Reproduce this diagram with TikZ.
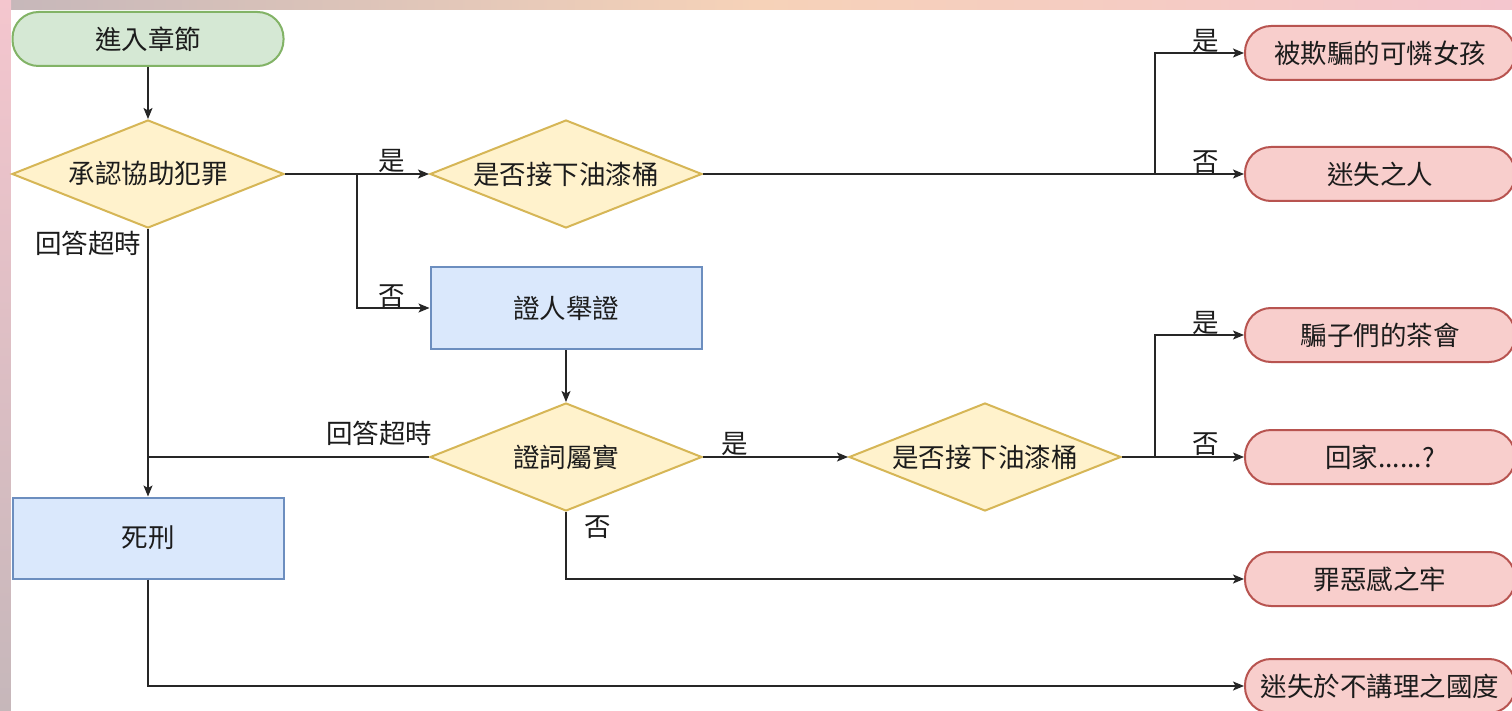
\documentclass[tikz,border=0pt]{standalone}
\usepackage{fontspec}
\newfontfamily\cjk{Noto Sans CJK TC}
\usetikzlibrary{shapes.geometric,arrows.meta}
\definecolor{txt}{HTML}{1C1C1C}
\definecolor{gfill}{HTML}{D5E8D4}\definecolor{gdraw}{HTML}{82B366}
\definecolor{yfill}{HTML}{FFF2CC}\definecolor{ydraw}{HTML}{D6B656}
\definecolor{bfill}{HTML}{DAE8FC}\definecolor{bdraw}{HTML}{6C8EBF}
\definecolor{rfill}{HTML}{F8CECC}\definecolor{rdraw}{HTML}{B85450}
\definecolor{bgA}{HTML}{C6B7BA}\definecolor{bgB}{HTML}{F4C6CE}\definecolor{bgC}{HTML}{F6D2B8}
\tikzset{
  base/.style={font=\cjk\fontsize{26.5}{30}\selectfont, text=txt, line width=2pt},
  startbox/.style={base, draw=gdraw, fill=gfill, rounded corners=26pt, minimum width=271pt, minimum height=54pt},
  endbox/.style={base, draw=rdraw, fill=rfill, rounded corners=26pt, minimum width=270pt, minimum height=54pt},
  decbox/.style={base, diamond, aspect=2.5, inner sep=0pt, draw=ydraw, fill=yfill, minimum width=272pt, minimum height=108pt},
  procbox/.style={base, draw=bdraw, fill=bfill, minimum width=271pt, minimum height=82pt},
  conn/.style={line width=1.4pt, draw=black!85, -{Stealth[length=11pt,width=9pt,inset=2.5pt]}},
  plain/.style={line width=1.4pt, draw=black!85},
  lab/.style={font=\cjk\fontsize{26.5}{30}\selectfont, text=txt, inner sep=0pt}
}
\begin{document}
\begin{tikzpicture}[x=1pt,y=-1pt]
\useasboundingbox (0,0) rectangle (1512,711);
\clip (0,0) rectangle (1512,711);
% background
\fill[bgA] (0,0) rectangle (1512,711);
\shade[left color=bgA, right color=bgB, middle color=bgC] (0,0) rectangle (1512,10);
\shade[top color=bgB, bottom color=bgA] (0,0) rectangle (11,711);
\fill[white] (11,10) rectangle (1512,711);

% nodes
\node[startbox] (start) at (148,39) {進入章節};
\node[decbox] (q1) at (148,174) {承認協助犯罪};
\node[decbox] (p1) at (566,174) {是否接下油漆桶};
\node[procbox] (wit) at (566,308) {證人舉證};
\node[decbox] (q2) at (566,457) {證詞屬實};
\node[decbox] (p2) at (985,457) {是否接下油漆桶};
\node[procbox, minimum height=81pt] (death) at (148,538) {死刑};
\node[endbox] (e1) at (1380,53) {被欺騙的可憐女孩};
\node[endbox] (e2) at (1380,174) {迷失之人};
\node[endbox] (e3) at (1380,335) {騙子們的茶會};
\node[endbox] (e4) at (1380,457) {回家......?};
\node[endbox] (e5) at (1380,579) {罪惡感之牢};
\node[endbox] (e6) at (1380,686) {迷失於不講理之國度};

% branch points
\coordinate (b1) at (357,174);
\coordinate (j1) at (148,457);
\coordinate (b2) at (1155,174);
\coordinate (b3) at (1155,457);

% connectors
\draw[conn] (start) -- (q1);
\draw[conn] (q1.east) -- (p1.west);
\draw[conn] (b1) |- (wit.west);
\draw[conn] (q1.south) -- (death.north);
\draw[conn] (wit) -- (q2);
\draw[plain] (q2.west) -- (j1);
\draw[conn] (q2.east) -- (p2.west);
\draw[conn] (q2.south) |- (e5.west);
\draw[conn] (p1.east) -- (e2.west);
\draw[conn] (b2) |- (e1.west);
\draw[conn] (p2.east) -- (e4.west);
\draw[conn] (b3) |- (e3.west);
\draw[conn] (death.south) |- (e6.west);

% labels
\node[lab] (l1) at (392,161) {是};
\node[lab] (l2) at (392,296) {否};
\node[lab] (l3) at (88,243) {回答超時};
\node[lab] (l4) at (379,433) {回答超時};
\node[lab] (l5) at (735,444) {是};
\node[lab] (l6) at (598,527) {否};
\node[lab] (l7) at (1206,41) {是};
\node[lab] (l8) at (1206,162) {否};
\node[lab] (l9) at (1206,323) {是};
\node[lab] (l10) at (1206,444) {否};
\end{tikzpicture}
\end{document}
